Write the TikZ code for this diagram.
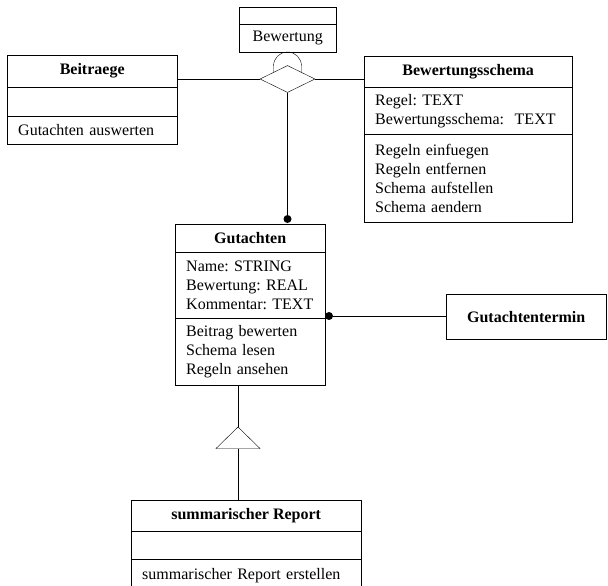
\documentclass[tikz,border=0pt]{standalone}
\usepackage{fontspec}
\setmainfont{Liberation Serif}
\usetikzlibrary{shapes.geometric}

\tikzset{
  head/.style={draw,anchor=north west,inner sep=0pt,font=\fontsize{16}{19}\selectfont\frenchspacing\bfseries},
  part/.style={draw,anchor=north west,align=left,inner xsep=11pt,inner ysep=0pt,font=\fontsize{16}{19}\selectfont\frenchspacing},
  dot/.style={circle,fill,inner sep=0pt,minimum size=8pt},
}

\begin{document}
\begin{tikzpicture}[x=1pt,y=1pt]
\useasboundingbox (0,0) rectangle (608,-586);

% Beitraege
\node(bei-head)[head,minimum width=170pt,minimum height=32pt] at (7,-55) {Beitraege};
\node(bei-attr)[part,text width=148pt,minimum height=29pt] at (7,-87) {};
\node(bei-ops)[part,text width=148pt,minimum height=28pt] at (7,-116) {Gutachten auswerten};

% Bewertungsschema
\node(sch-head)[head,minimum width=208pt,minimum height=31pt] at (364,-56) {Bewertungsschema};
\node(sch-attr)[part,text width=186pt,minimum height=47pt] at (364,-87) {Regel: TEXT\\Bewertungsschema:\ \ TEXT};
\node(sch-ops)[part,text width=186pt,minimum height=88pt] at (364,-134) {Regeln einfuegen\\Regeln entfernen\\Schema aufstellen\\Schema aendern};

% Bewertung
\node(bew-head)[head,minimum width=97pt,minimum height=17pt] at (239,-7) {};
\node(bew-name)[part,text width=75pt,minimum height=28pt,align=center] at (239,-24) {Bewertung};

% Gutachten
\node(gut-head)[head,minimum width=150pt,minimum height=28pt] at (175,-224) {Gutachten};
\node(gut-attr)[part,text width=128pt,minimum height=66pt] at (175,-252) {Name: STRING\\Bewertung: REAL\\Kommentar: TEXT};
\node(gut-ops)[part,text width=128pt,minimum height=67pt] at (175,-318) {Beitrag bewerten\\Schema lesen\\Regeln ansehen};

\node(termin)[head,minimum width=160pt,minimum height=45pt] at (446,-294) {Gutachtentermin};

% summarischer Report
\node(rep-head)[head,minimum width=230pt,minimum height=31pt] at (131,-500) {summarischer Report};
\node(rep-attr)[part,text width=208pt,minimum height=28pt] at (131,-531) {};
\node(rep-ops)[part,text width=208pt,minimum height=32pt] at (131,-559) {summarischer Report erstellen};

% association
\node(dia)[draw,diamond,minimum width=55pt,minimum height=27pt,inner sep=0pt] at (287.5,-79) {};
\draw (dia.west) -- (dia.west -| bei-head.east);
\draw (dia.east) -- (dia.east -| sch-head.west);
\draw (273.5,-72.4) -- (273.5,-66) arc[start angle=180,end angle=0,radius=14] -- (301.5,-72.4);

\node(dot-top)[dot] at (287.5,-219) {};
\draw (dia.south) -- (dot-top);
\node(dot-right)[dot] at (329,-316) {};
\draw (dot-right) -- (dot-right -| termin.west);

% inheritance
\coordinate(tri-top) at (238,-427);
\coordinate(tri-base) at (238,-448.5);
\draw (tri-top) -- ++(-22,-21.5) -- ++(44,0) -- cycle;
\draw (tri-top |- gut-ops.south) -- (tri-top);
\draw (tri-base) -- (tri-base |- rep-head.north);

\end{tikzpicture}
\end{document}
